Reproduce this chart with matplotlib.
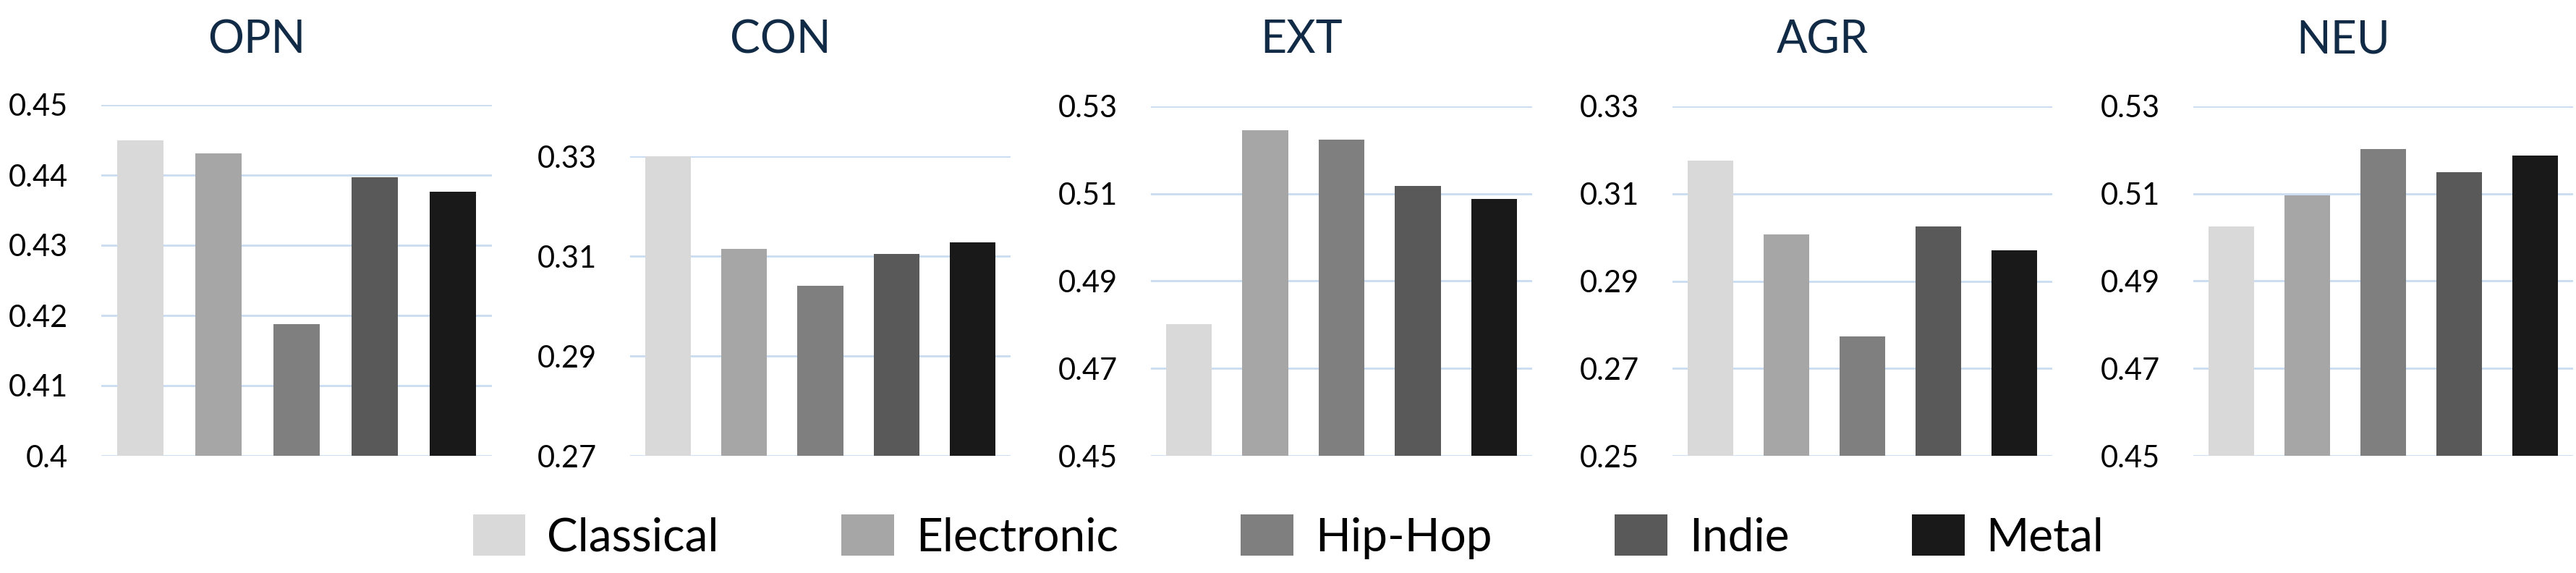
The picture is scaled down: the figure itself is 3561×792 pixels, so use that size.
import numpy as np
import matplotlib
matplotlib.use('Agg')
import matplotlib.pyplot as plt
from matplotlib.ticker import FormatStrFormatter

plt.rcParams['font.family'] = ['Lato', 'DejaVu Sans']

genres = ['Classical', 'Electronic', 'Hip-Hop', 'Indie', 'Metal']
colors = ['#d9d9d9', '#a6a6a6', '#7f7f7f', '#595959', '#191919']

traits = ['OPN', 'CON', 'EXT', 'AGR', 'NEU']
opn = [0.4449, 0.4431, 0.4188, 0.4397, 0.4376]
con = [0.3300, 0.3114, 0.3040, 0.3104, 0.3128]
ext = [0.4802, 0.5245, 0.5223, 0.5118, 0.5088]
agr = [0.3175, 0.3007, 0.2773, 0.3025, 0.2970]
neu = [0.5025, 0.5097, 0.5202, 0.5150, 0.5187]
values = [opn, con, ext, agr, neu]

y_ranges = [(0.40, 0.45, 0.01), (0.27, 0.33, 0.02), (0.45, 0.53, 0.02),
            (0.25, 0.33, 0.02), (0.45, 0.53, 0.02)]

W, H = 3562, 792
fig = plt.figure(figsize=(W / 100, H / 100), dpi=100)

# axes boxes in pixels: left, right, top (bottom is shared)
boxes = [(140, 680, 145), (871, 1397, 216), (1591, 2118, 147),
         (2312, 2837, 147), (3032, 3557, 147)]
bottom = 630

x = np.arange(len(genres))
for i, (l, r, t) in enumerate(boxes):
    ax = fig.add_axes([l / W, 1 - bottom / H, (r - l) / W, (bottom - t) / H])
    lo, hi, step = y_ranges[i]
    ax.set_ylim(lo, hi)
    ax.set_xlim(-0.5, len(genres) - 0.5)
    ax.set_yticks(np.arange(lo, hi + step / 2, step))
    ax.yaxis.set_major_formatter(FormatStrFormatter('%g'))
    ax.grid(axis='y', color='#c9dcf2', linewidth=2)
    ax.set_axisbelow(True)
    bars = ax.bar(x, values[i], width=0.6, color=colors, zorder=2)
    ax.set_xticks([])
    for s in ax.spines.values():
        s.set_visible(False)
    ax.tick_params(axis='y', length=0, pad=33, labelsize=30, labelcolor='black')
    cx = (l + r) / 2 - 55
    fig.text(cx / W, 1 - 73 / H, traits[i], ha='center', va='baseline',
             fontsize=45, color='#112b46')

fig.legend(bars, genres, loc='center', bbox_to_anchor=(0.5, 1 - 742 / H), ncol=5,
           frameon=False, fontsize=46, handlelength=1.14, handleheight=1.0,
           handletextpad=0.47, columnspacing=2.65)

fig.savefig('out.png', dpi=100)
